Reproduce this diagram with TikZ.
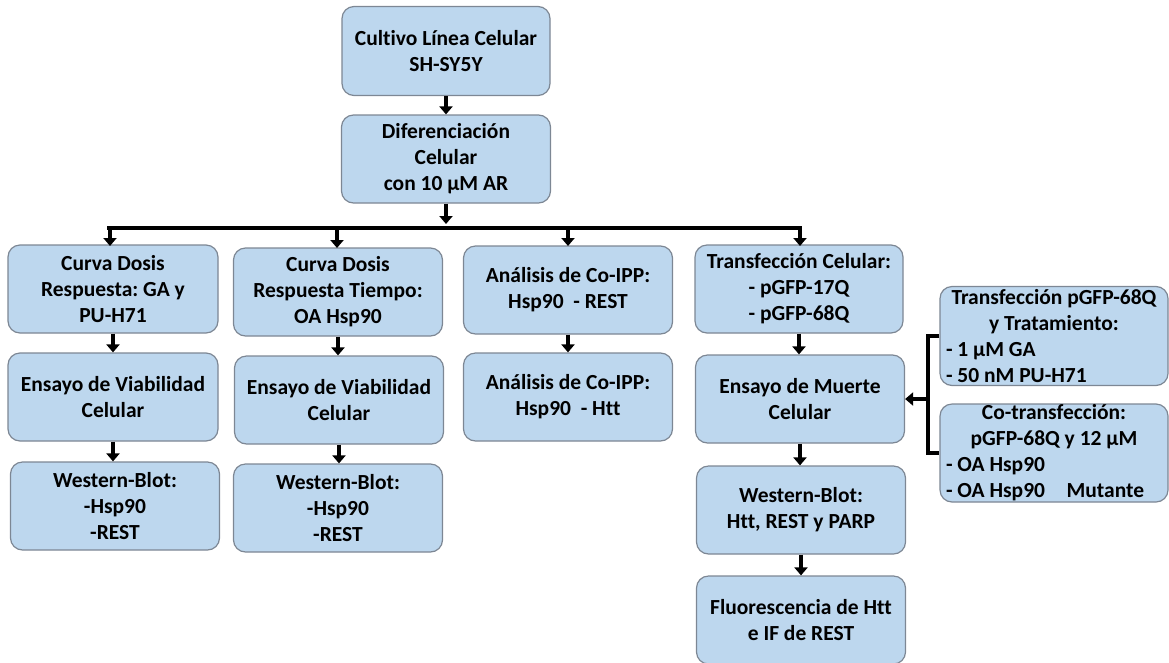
\documentclass[tikz,border=0pt]{standalone}
\usepackage{fontspec}
\setmainfont[Ligatures=NoCommon]{Carlito}
\usetikzlibrary{arrows.meta}
\definecolor{boxfill}{RGB}{189,215,238}
\definecolor{boxline}{RGB}{125,135,148}
\newcommand{\lft}[1]{\makebox[216pt][l]{#1}}
\frenchspacing
\begin{document}
\begin{tikzpicture}[x=1pt,y=-1pt,
  box/.style={draw=boxline, line width=1.2pt, fill=boxfill, rounded corners=12pt,
    minimum width=209pt, minimum height=88pt, inner sep=0pt, align=center,
    font=\bfseries\fontsize{21.5}{26}\selectfont},
  arr/.style={line width=4pt, -{Triangle[width=13pt,length=8pt]}},
  bar/.style={line width=4pt}]
\useasboundingbox (0,0) rectangle (1169,662);
\node[box, minimum width=208pt, minimum height=89pt] (top) at (446,51) {Cultivo Línea Celular\\SH-SY5Y};
\node[box] (dif) at (446,159) {Diferenciación\\Celular\\con 10 µM AR};
\node[box, minimum width=210pt] (A1) at (113,289) {Curva Dosis\\Respuesta: GA y\\PU-H71};
\node[box, minimum width=210pt] (A2) at (113,397) {Ensayo de Viabilidad\\Celular};
\node[box] (A3) at (115,506) {Western-Blot:\\-Hsp90\\-REST};
\node[box] (B1) at (338,292) {Curva Dosis\\Respuesta Tiempo:\\OA Hsp90};
\node[box] (B2) at (339,400) {Ensayo de Viabilidad\\Celular};
\node[box] (B3) at (338,508) {Western-Blot:\\-Hsp90\\-REST};
\node[box] (C1) at (568,290) {Análisis de Co-IPP:\\Hsp90\ \ - REST};
\node[box] (C2) at (568,397) {Análisis de Co-IPP:\\Hsp90\ \ - Htt};
\node[box, minimum width=208pt] (D1) at (799,289) {Transfección Celular:\\- pGFP-17Q\\- pGFP-68Q};
\node[box] (D2) at (800,399) {Ensayo de Muerte\\Celular};
\node[box] (D3) at (801,510) {Western-Blot:\\Htt, REST y PARP};
\node[box] (D4) at (801,620) {Fluorescencia de Htt\\e IF de REST};
\node[box, minimum width=228pt, minimum height=99pt] (E1) at (1054,336)
  {Transfección pGFP-68Q\\y Tratamiento:\\\lft{- 1 µM GA}\\\lft{- 50 nM PU-H71}};
\node[box, minimum width=228pt, minimum height=98pt] (E2) at (1054,453)
  {Co-transfección:\\pGFP-68Q y 12 µM\\\lft{- OA Hsp90}\\\lft{- OA Hsp90\quad Mutante}};
% connectors
\draw[arr] (top.south) -- (dif.north);
\coordinate (barL) at (107,228);
\coordinate (barR) at (802,228);
\draw[arr] (dif.south) -- (dif.south |- 0,224);
\draw[bar] (barL) -- (barR);
\draw[arr] (barL -| 110,0) -- (110,246);
\draw[arr] (barL -| 337,0) -- (337,248);
\draw[arr] (barL -| 568,0) -- (568,246);
\draw[arr] (barL -| 800,0) -- (800,246);
\draw[arr] (A1.south) -- (A2.north);
\draw[arr] (A2.south) -- (A2.south |- A3.north);
\draw[arr] (B1.south) -- (B1.south |- B2.north);
\draw[arr] (B2.south) -- (B2.south |- B3.north);
\draw[arr] (C1.south) -- (C2.north);
\draw[arr] (D1.south) -- (D1.south |- D2.north);
\draw[arr] (D2.south) -- (D2.south |- D3.north);
\draw[arr] (D3.south) -- (D3.south |- D4.north);
\coordinate (brk) at (928,399);
\draw[bar] (E1.west) -- (brk |- E1.west) -- (brk |- E2.west) -- (E2.west);
\draw[arr] (brk) -- (D2.east);
\end{tikzpicture}
\end{document}
